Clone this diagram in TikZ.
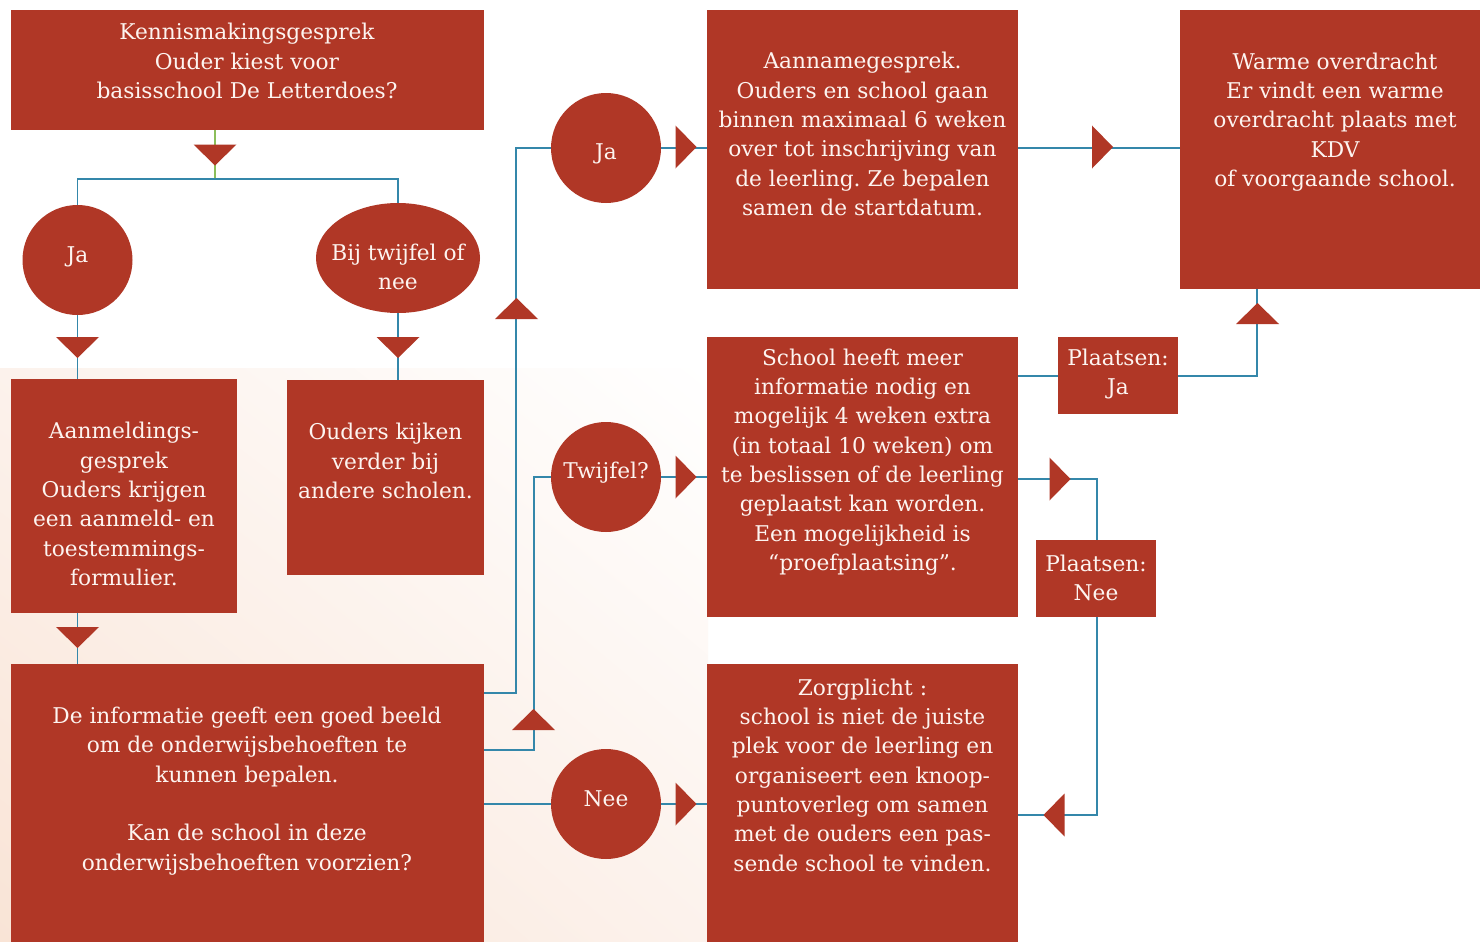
\documentclass[tikz,border=0pt]{standalone}
\usepackage{fontspec}
\setmainfont{DejaVu Serif}
\frenchspacing
\usetikzlibrary{shapes.geometric,calc,shadings}
\definecolor{boxred}{RGB}{176,55,38}
\definecolor{lineblue}{RGB}{52,135,170}
\definecolor{linegreen}{RGB}{140,190,90}
\definecolor{peach}{RGB}{249,228,214}
\definecolor{peachmid}{RGB}{252,242,236}
\definecolor{txtwhite}{RGB}{253,244,240}
\tikzset{
  box/.style={fill=boxred, draw=none, anchor=north west, inner sep=0pt},
  txt/.style={text=txtwhite, align=center, font=\fontsize{21.7}{29.3}\selectfont, inner sep=0pt},
  circ/.style={circle, fill=boxred, minimum size=110pt, inner sep=0pt},
  conn/.style={draw=lineblue, line width=1.6pt},
  tridown/.pic={\fill[boxred] (-21.5,-10.5) -- (21.5,-10.5) -- (0,10.5) -- cycle;},
  triup/.pic={\fill[boxred] (-21.5,10.5) -- (21.5,10.5) -- (0,-10.5) -- cycle;},
  triright/.pic={\fill[boxred] (-10.5,-21.5) -- (-10.5,21.5) -- (10.5,0) -- cycle;},
  trileft/.pic={\fill[boxred] (10.5,-21.5) -- (10.5,21.5) -- (-10.5,0) -- cycle;},
}
\begin{document}
\begin{tikzpicture}[x=1pt,y=-1pt]
\useasboundingbox (0,0) rectangle (1480,942);
\fill[white] (0,0) rectangle (1480,942);
% background gradient panel
\shade[upper left=peachmid, upper right=white, lower left=peach, lower right=peachmid] (0,368) rectangle (708,942);

% boxes
\node[box, minimum width=473pt, minimum height=120pt] (k) at (11,10) {};
\node[box, minimum width=226pt, minimum height=234pt] (aan) at (11,379) {};
\node[box, minimum width=197pt, minimum height=195pt] (ouk) at (287,380) {};
\node[box, minimum width=473pt, minimum height=278pt] (info) at (11,664) {};
\node[box, minimum width=311pt, minimum height=279pt] (aan2) at (707,10) {};
\node[box, minimum width=300pt, minimum height=279pt] (warm) at (1180,10) {};
\node[box, minimum width=311pt, minimum height=280pt] (school) at (707,337) {};
\node[box, minimum width=311pt, minimum height=278pt] (zorg) at (707,664) {};
\node[box, minimum width=120pt, minimum height=77pt] (pja) at (1058,337) {};
\node[box, minimum width=120pt, minimum height=77pt] (pnee) at (1036,540) {};

% circles
\node[circ, label={[txt, yshift=3pt]center:Ja}] (ja1) at (77.5,260) {};
\node[ellipse, fill=boxred, minimum width=164pt, minimum height=110pt, inner sep=0pt, label={[txt, yshift=-9pt]center:{Bij twijfel of\\nee}}] (twn) at (398,258) {};
\node[circ, label={[txt, yshift=-6pt]center:Ja}] (jab) at (606,148) {};
\node[circ, label={[txt, yshift=4pt]center:Twijfel?}] (twf) at (606,477) {};
\node[circ, label={[txt, yshift=5pt]center:Nee}] (nee) at (606,804) {};

% texts
\node[txt] (kt) at (247,61) {Kennismakingsgesprek\\Ouder kiest voor\\basisschool De Letterdoes?};
\node[txt] (aant) at (124,504) {Aanmeldings-\\gesprek\\Ouders krijgen\\een aanmeld- en\\toestemmings-\\formulier.};
\node[txt] (oukt) at (385.5,461) {Ouders kijken\\verder bij\\andere scholen.};
\node[txt] (infot) at (247,791) {De informatie geeft een goed beeld\\om de onderwijsbehoeften te\\kunnen bepalen.\\[29.3pt]Kan de school in deze\\onderwijsbehoeften voorzien?};
\node[txt] (aan2t) at (862.5,134) {Aannamegesprek.\\Ouders en school gaan\\binnen maximaal 6 weken\\over tot inschrijving van\\de leerling. Ze bepalen\\samen de startdatum.};
\node[txt] (warmt) at (1335,122) {Warme overdracht\\Er vindt een warme\\overdracht plaats met\\KDV\\of voorgaande school.};
\node[txt] (schoolt) at (862.5,462) {School heeft meer\\informatie nodig en\\mogelijk 4 weken extra\\(in totaal 10 weken) om\\te beslissen of de leerling\\geplaatst kan worden.\\Een mogelijkheid is\\“proefplaatsing”.};
\node[txt] (zorgt) at (862.5,775) {Zorgplicht :\\school is niet de juiste\\plek voor de leerling en\\organiseert een knoop-\\puntoverleg om samen\\met de ouders een pas-\\sende school te vinden.};
\node[txt] (pjat) at (1118,374) {Plaatsen:\\Ja};
\node[txt] (pneet) at (1096,578) {Plaatsen:\\Nee};

% helper coordinates
\coordinate (j1) at (215,179);
\coordinate (c1) at (516,693);
\coordinate (c2) at (534,750);
\coordinate (c3) at (1257,376);
\coordinate (c4) at (1097,479);
\coordinate (c5) at (1097,815);

% connectors
\draw[draw=linegreen, line width=1.6pt] (k.south -| j1) -- (j1);
\draw[conn] (ja1.north) |- (j1) -| (twn.north);
\draw[conn] (ja1.south) -- (ja1.south |- aan.north);
\draw[conn] (twn.south) -- (twn.south |- ouk.north);
\draw[conn] (aan.south -| ja1) -- (ja1 |- info.north);
\draw[conn] (info.east |- c1) -- (c1) |- (jab.west);
\draw[conn] (info.east |- c2) -- (c2) |- (twf.west);
\draw[conn] (info.east |- nee) -- (nee.west);
\draw[conn] (jab.east) -- (jab -| aan2.west);
\draw[conn] (twf.east) -- (twf -| school.west);
\draw[conn] (nee.east) -- (nee -| zorg.west);
\draw[conn] (aan2.east |- jab) -- (warm.west |- jab);
\draw[conn] (school.east |- c3) -- (pja.west |- c3);
\draw[conn] (pja.east |- c3) -- (c3) -- (warm.south -| c3);
\draw[conn] (school.east |- c4) -- (c4) -- (pnee.north -| c4);
\draw[conn] (pnee.south -| c5) -- (c5) -- (zorg.east |- c5);

% triangles
\pic at (215,155) {tridown};
\pic at (77.5,347.5) {tridown};
\pic at (398,347.5) {tridown};
\pic at (77.5,637.5) {tridown};
\pic at (516.5,308.5) {triup};
\pic at (533.5,719.5) {triup};
\pic at (686,147) {triright};
\pic at (686,477) {triright};
\pic at (686,804) {triright};
\pic at (1102.5,147) {triright};
\pic at (1257.5,313.5) {triup};
\pic at (1060,479) {triright};
\pic at (1054,815) {trileft};
\end{tikzpicture}
\end{document}
